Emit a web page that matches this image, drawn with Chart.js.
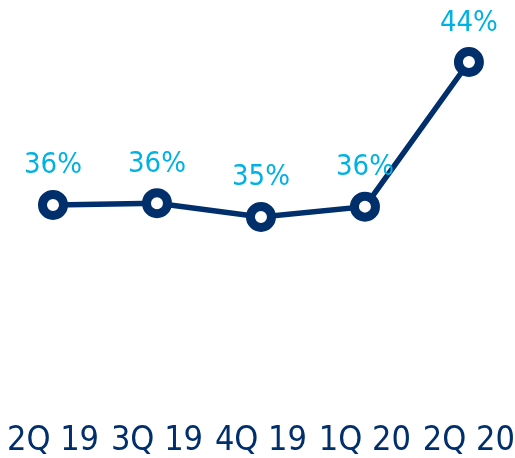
<!DOCTYPE html>
<html>
<head>
<meta charset="utf-8">
<script src="https://cdn.jsdelivr.net/npm/chart.js@4/dist/chart.umd.min.js"></script>
<style>
  html, body { margin: 0; padding: 0; background: #fff; }
  #wrap { width: 515px; height: 458px; }
</style>
</head>
<body>
<div id="wrap"><canvas id="chart"></canvas></div>
<script>
const quarters = ['2Q 19', '3Q 19', '4Q 19', '1Q 20', '2Q 20'];
const ratio = [35.7, 35.8, 35.0, 35.6, 44.0];

const NAVY = '#002f6c';
const CYAN = '#00b2e3';
const FONT = "'DejaVu Sans Condensed', 'DejaVu Sans', sans-serif";

// percent labels above each point
const valueLabels = {
    id: 'valueLabels',
    afterDatasetsDraw(chart) {
        const ctx = chart.ctx;
        const meta = chart.getDatasetMeta(0);
        ctx.save();
        ctx.font = '29px ' + FONT;
        ctx.fillStyle = CYAN;
        ctx.textAlign = 'center';
        ctx.textBaseline = 'middle';
        meta.data.forEach((pt, i) => {
            ctx.fillText(Math.round(ratio[i]) + '%', pt.x, pt.y - 39);
        });
        ctx.restore();
    }
};

new Chart(document.getElementById('chart'), {
    type: 'line',
    data: {
        labels: quarters,
        datasets: [{
            data: ratio,
            borderColor: NAVY,
            borderWidth: 5.5,
            pointRadius: 10.5,
            pointHoverRadius: 10.5,
            pointBorderWidth: 9,
            pointBackgroundColor: '#fff',
            pointBorderColor: NAVY,
            tension: 0
        }]
    },
    options: {
        responsive: true,
        maintainAspectRatio: false,
        animation: false,
        layout: { autoPadding: false, padding: { left: 53, right: 45, top: 0, bottom: 0 } },
        plugins: { legend: { display: false }, tooltip: { enabled: false } },
        scales: {
            x: {
                offset: false,
                grid: { display: false, drawTicks: false },
                border: { display: false },
                ticks: { color: NAVY, font: { family: FONT, size: 34 }, padding: 0, maxRotation: 0 },
                afterFit(scale) { scale.height = 37; }
            },
            y: {
                display: false,
                min: 23.15,
                max: 47.6
            }
        }
    },
    plugins: [valueLabels]
});
</script>
</body>
</html>
